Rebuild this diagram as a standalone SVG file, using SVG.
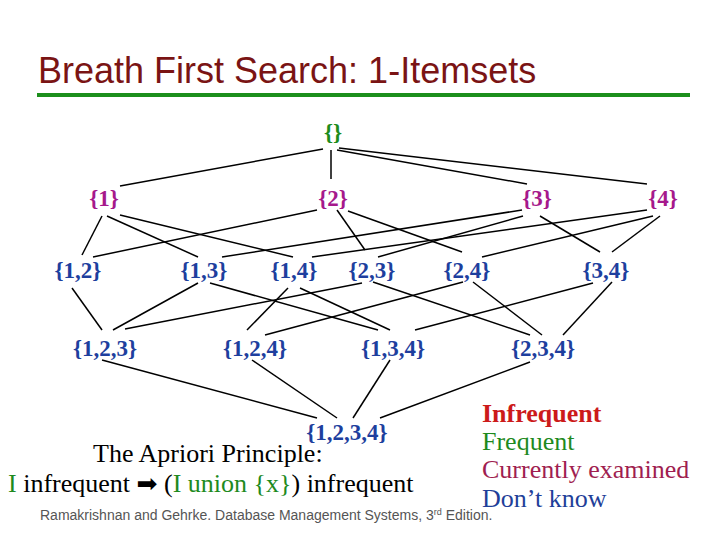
<svg xmlns="http://www.w3.org/2000/svg" width="720" height="540" viewBox="0 0 720 540">
<style>
.title{font-family:"Liberation Sans",Arial,sans-serif;font-size:36px;fill:#7a1414}
.n{font-family:"Liberation Serif","Times New Roman",serif;font-size:23px;font-weight:bold;text-anchor:middle}
.empty{fill:#1c8c1c}
.cur{fill:#a6198c}
.unk{fill:#1e3f9e}
.txt{font-family:"Liberation Serif","Times New Roman",serif;font-size:26px;fill:#000}
.g{fill:#1e8a1e}
.foot{font-family:"Liberation Sans",Arial,sans-serif;font-size:14px;fill:#555}
#connectors line{stroke:#000;stroke-width:1.5}
</style>
<rect width="720" height="540" fill="#fff"/>
<text class="title" x="38" y="83">Breath First Search: 1-Itemsets</text>
<rect x="37" y="93" width="653" height="4" fill="#1c8f1c"/>
<g id="connectors">
<line x1="323" y1="149" x2="120" y2="186"/>
<line x1="331" y1="150" x2="331" y2="179"/>
<line x1="337" y1="150" x2="527" y2="184"/>
<line x1="339" y1="148" x2="647" y2="184"/>
<line x1="102" y1="216" x2="82" y2="255"/>
<line x1="107" y1="216" x2="198" y2="257"/>
<line x1="120" y1="215" x2="293" y2="257"/>
<line x1="317" y1="210" x2="93" y2="257"/>
<line x1="337" y1="210" x2="365" y2="250"/>
<line x1="348" y1="211" x2="462" y2="252"/>
<line x1="522" y1="210" x2="222" y2="257"/>
<line x1="523" y1="216" x2="378" y2="257"/>
<line x1="540" y1="216" x2="600" y2="252"/>
<line x1="647" y1="210" x2="312" y2="257"/>
<line x1="653" y1="216" x2="482" y2="257"/>
<line x1="660" y1="216" x2="612" y2="252"/>
<line x1="72" y1="288" x2="102" y2="330"/>
<line x1="198" y1="283" x2="113" y2="330"/>
<line x1="125" y1="329" x2="362" y2="283"/>
<line x1="288" y1="288" x2="247" y2="330"/>
<line x1="265" y1="335" x2="463" y2="282"/>
<line x1="210" y1="283" x2="378" y2="330"/>
<line x1="300" y1="288" x2="390" y2="330"/>
<line x1="415" y1="330" x2="593" y2="283"/>
<line x1="373" y1="282" x2="530" y2="335"/>
<line x1="473" y1="282" x2="542" y2="335"/>
<line x1="612" y1="282" x2="563" y2="335"/>
<line x1="102" y1="360" x2="317" y2="418"/>
<line x1="252" y1="360" x2="337" y2="418"/>
<line x1="390" y1="360" x2="353" y2="418"/>
<line x1="530" y1="362" x2="380" y2="418"/>
</g>
<g id="n-empty"><text class="n empty" x="333" y="140">{}</text></g>
<g id="n-1"><text class="n cur" x="104" y="206">{1}</text></g>
<g id="n-2"><text class="n cur" x="333" y="206">{2}</text></g>
<g id="n-3"><text class="n cur" x="537" y="206">{3}</text></g>
<g id="n-4"><text class="n cur" x="663" y="206">{4}</text></g>
<g id="n-12"><text class="n unk" x="78" y="278">{1,2}</text></g>
<g id="n-13"><text class="n unk" x="204" y="278">{1,3}</text></g>
<g id="n-14"><text class="n unk" x="294" y="278">{1,4}</text></g>
<g id="n-23"><text class="n unk" x="372" y="278">{2,3}</text></g>
<g id="n-24"><text class="n unk" x="467" y="278">{2,4}</text></g>
<g id="n-34"><text class="n unk" x="606" y="278">{3,4}</text></g>
<g id="n-123"><text class="n unk" x="105" y="356">{1,2,3}</text></g>
<g id="n-124"><text class="n unk" x="255" y="356">{1,2,4}</text></g>
<g id="n-134"><text class="n unk" x="393" y="356">{1,3,4}</text></g>
<g id="n-234"><text class="n unk" x="543" y="356">{2,3,4}</text></g>
<g id="n-1234"><text class="n unk" x="347" y="440">{1,2,3,4}</text></g>
<text class="txt" x="93" y="462">The Apriori Principle:</text>
<text class="txt" x="8" y="492"><tspan class="g">I</tspan> infrequent <tspan font-family="DejaVu Sans,sans-serif" font-size="25">➡</tspan> (<tspan class="g">I union {x}</tspan>) infrequent</text>
<text class="foot" x="40" y="520">Ramakrishnan and Gehrke. Database Management Systems, 3<tspan font-size="9" dy="-5">rd</tspan><tspan dy="5"> Edition.</tspan></text>
<g id="legend" font-family="Liberation Serif,Times New Roman,serif" font-size="26">
<text x="482" y="422" font-weight="bold" fill="#cc1a1a">Infrequent</text>
<text x="482" y="450" fill="#1e8a1e">Frequent</text>
<text x="482" y="478" fill="#a01e50">Currently examined</text>
<text x="482" y="507" fill="#1f3f99">Don’t know</text>
</g>
</svg>
